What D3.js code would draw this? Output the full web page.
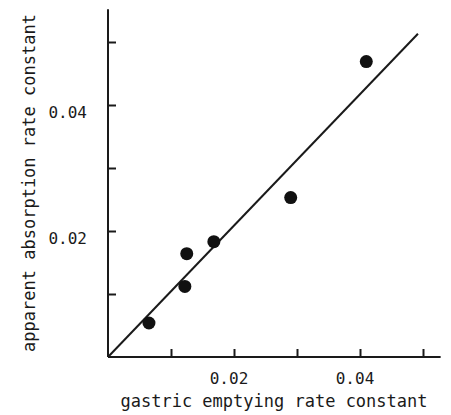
<!DOCTYPE html>
<html><head><meta charset="utf-8">
<script src="https://cdn.jsdelivr.net/npm/d3@7"></script>
<style>body{margin:0;background:#fff}svg{display:block}</style>
</head><body>
<svg id="c" width="451" height="415"></svg>
<script>
const xValues = [0.0065, 0.0122, 0.0125, 0.0168, 0.0290, 0.0410];
const yValues = [0.0054, 0.0112, 0.0164, 0.0183, 0.0253, 0.0469];
const fitLine = [[0, 0], [0.0492, 0.0513]];
const xTicks = [0.01, 0.02, 0.03, 0.04, 0.05];
const yTicks = [0.01, 0.02, 0.03, 0.04, 0.05];
const xTickLabels = ["0.02", "0.04"];
const yTickLabels = ["0.02", "0.04"];
const xTitle = "gastric emptying rate constant";
const yTitle = "apparent absorption rate constant";

const svg = d3.select("#c");
const ink = "#1a1a1a";
const font = "'DejaVu Sans Mono', monospace";
const x = d3.scaleLinear().domain([0, 0.01]).range([108, 171]);
const y = d3.scaleLinear().domain([0, 0.01]).range([357, 294]);

// axes
const xAxis = d3.axisBottom(x).tickValues(xTicks).tickSizeInner(-8).tickSizeOuter(0).tickFormat("");
const gx = svg.append("g").attr("transform", `translate(0,${y(0)})`).call(xAxis);
gx.select(".domain").attr("d", `M${x(0)},0H${x(0.0528)}`);
const yAxis = d3.axisLeft(y).tickValues(yTicks).tickSizeInner(-8).tickSizeOuter(0).tickFormat("");
const gy = svg.append("g").attr("transform", `translate(${x(0)},0)`).call(yAxis);
gy.select(".domain").attr("d", `M0,${y(0)}V${y(0.0552)}`);
svg.selectAll(".domain, .tick line").attr("stroke", ink).attr("stroke-width", 2);

// tick labels
svg.append("g").selectAll("text").data(xTickLabels).join("text")
  .attr("x", d => x(+d) - 5).attr("y", y(0) + 27)
  .attr("text-anchor", "middle").attr("font-family", font).attr("font-size", 16).attr("fill", ink)
  .text(d => d);
svg.append("g").selectAll("text").data(yTickLabels).join("text")
  .attr("x", x(0) - 21).attr("y", d => y(+d) + 13)
  .attr("text-anchor", "end").attr("font-family", font).attr("font-size", 16).attr("fill", ink)
  .text(d => d);

// titles
svg.append("text").attr("x", 274).attr("y", 407).attr("text-anchor", "middle")
  .attr("font-family", font).attr("font-size", 17).attr("fill", ink).text(xTitle);
svg.append("text").attr("transform", "translate(35,183) rotate(-90)").attr("text-anchor", "middle")
  .attr("font-family", font).attr("font-size", 17).attr("fill", ink).text(yTitle);

// fit line
svg.append("path").datum(fitLine)
  .attr("d", d3.line().x(d => x(d[0])).y(d => y(d[1])))
  .attr("fill", "none").attr("stroke", ink).attr("stroke-width", 2);

// points
svg.append("g").selectAll("circle").data(xValues).join("circle")
  .attr("cx", d => x(d)).attr("cy", (d, i) => y(yValues[i]))
  .attr("r", 6.5).attr("fill", "#111");
</script>
</body></html>
